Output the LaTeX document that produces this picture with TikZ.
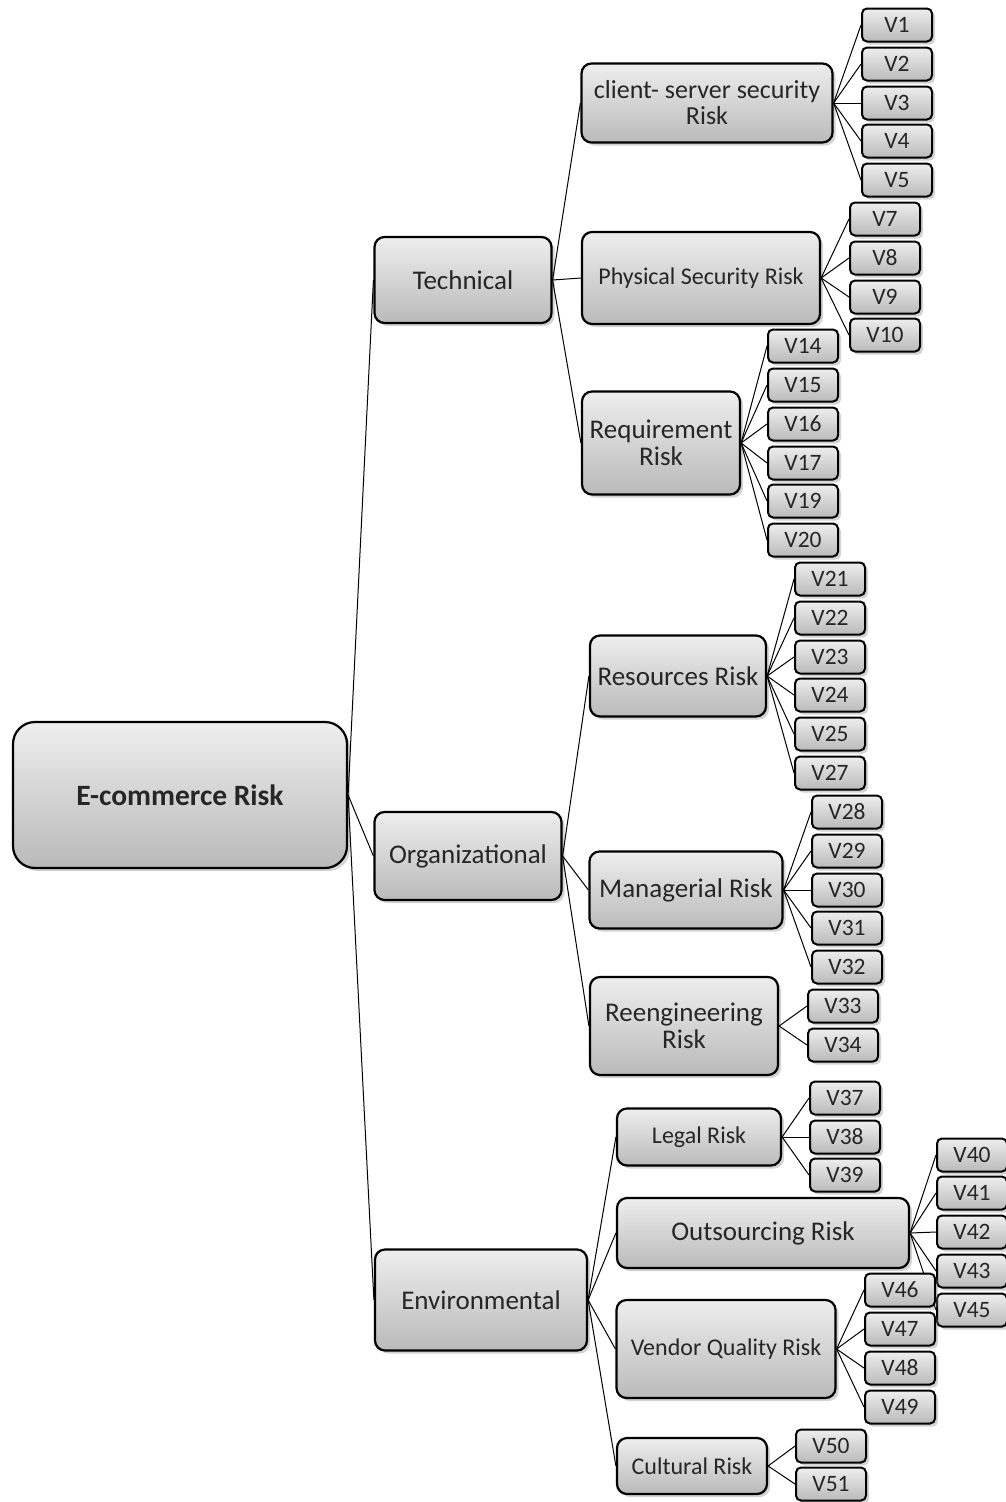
\documentclass[tikz,border=0pt]{standalone}
\usepackage{fontspec}
\setmainfont{Carlito}
\usetikzlibrary{shadows}
\definecolor{boxtop}{RGB}{238,238,238}
\definecolor{boxbot}{RGB}{186,186,186}
\definecolor{inkgray}{RGB}{38,38,38}
\tikzset{
  riskbox/.style={draw=black, line width=2.2pt, rounded corners=10pt,
    top color=boxtop, bottom color=boxbot, align=center, inner sep=0pt,
    text=inkgray,
    drop shadow={opacity=0.35, shadow xshift=3pt, shadow yshift=-3pt},
    font=\fontsize{27}{27}\selectfont},
  smallrisk/.style={riskbox, font=\fontsize{24}{27}\selectfont},
  vbox/.style={riskbox, rounded corners=5pt, line width=2pt,
    minimum width=70pt, minimum height=33pt, font=\fontsize{23.5}{25}\selectfont},
  link/.style={draw=black, line width=1pt}
}
\begin{document}
\begin{tikzpicture}[x=1pt,y=-1pt]
\useasboundingbox (0,0) rectangle (1005,1502);
% root
\node[riskbox, rounded corners=22pt, minimum width=334pt, minimum height=146pt,
  font=\bfseries\fontsize{29.5}{32}\selectfont] (root) at (180,795) {E-commerce Risk};
% first level
\node[riskbox, minimum width=177pt, minimum height=86pt] (tech) at (463,280) {Technical};
\node[riskbox, minimum width=187pt, minimum height=88pt] (org) at (468,856) {Organizational};
\node[riskbox, minimum width=212pt, minimum height=101pt] (env) at (481,1300) {Environmental};
\foreach \c in {tech,org,env} \draw[link] (root.east) -- (\c.west);
% second level
\node[riskbox, minimum width=251pt, minimum height=79pt,
  font=\fontsize{26}{26}\selectfont] (csr) at (707,103) {client-~server security\\Risk};
\node[smallrisk, minimum width=238pt, minimum height=92pt] (phys) at (701,278) {Physical Security Risk};
\node[riskbox, minimum width=158pt, minimum height=103pt] (req) at (661,443) {Requirement\\Risk};
\node[riskbox, minimum width=176pt, minimum height=81pt] (res) at (678,676) {Resources Risk};
\node[riskbox, minimum width=193pt, minimum height=77pt] (man) at (686,890) {Managerial Risk};
\node[riskbox, minimum width=188pt, minimum height=98pt] (reeng) at (684,1026) {Reengineering\\Risk};
\node[smallrisk, minimum width=164pt, minimum height=57pt] (legal) at (699,1137) {Legal Risk};
\node[riskbox, minimum width=292pt, minimum height=70pt] (outs) at (763,1233) {Outsourcing Risk};
\node[smallrisk, minimum width=219pt, minimum height=98pt] (vend) at (726,1349) {Vendor Quality Risk};
\node[smallrisk, minimum width=150pt, minimum height=56pt] (cult) at (692,1466) {Cultural Risk};
\foreach \c in {csr,phys,req} \draw[link] (tech.east) -- (\c.west);
\foreach \c in {res,man,reeng} \draw[link] (org.east) -- (\c.west);
\foreach \c in {legal,outs,vend,cult} \draw[link] (env.east) -- (\c.west);
% V leaves
\foreach \n/\y in {1/25,2/64,3/103,4/141,5/180} {
  \node[vbox] (v\n) at (897,\y) {V\n};
  \draw[link] (csr.east) -- (v\n.west);
}
\foreach \n/\y in {7/219,8/258,9/297,10/335} {
  \node[vbox] (v\n) at (885,\y) {V\n};
  \draw[link] (phys.east) -- (v\n.west);
}
\foreach \n/\y in {14/346,15/385,16/424,17/463,19/501,20/540} {
  \node[vbox] (v\n) at (803,\y) {V\n};
  \draw[link] (req.east) -- (v\n.west);
}
\foreach \n/\y in {21/579,22/618,23/657,24/695,25/734,27/773} {
  \node[vbox] (v\n) at (830,\y) {V\n};
  \draw[link] (res.east) -- (v\n.west);
}
\foreach \n/\y in {28/812,29/851,30/890,31/928,32/967} {
  \node[vbox] (v\n) at (847,\y) {V\n};
  \draw[link] (man.east) -- (v\n.west);
}
\foreach \n/\y in {33/1006,34/1045} {
  \node[vbox] (v\n) at (843,\y) {V\n};
  \draw[link] (reeng.east) -- (v\n.west);
}
\foreach \n/\y in {37/1098,38/1137,39/1175} {
  \node[vbox] (v\n) at (845,\y) {V\n};
  \draw[link] (legal.east) -- (v\n.west);
}
\foreach \n/\y in {40/1155,41/1193,42/1232,43/1271,45/1310} {
  \node[vbox] (v\n) at (972,\y) {V\n};
  \draw[link] (outs.east) -- (v\n.west);
}
\foreach \n/\y in {46/1290,47/1329,48/1368,49/1407} {
  \node[vbox] (v\n) at (900,\y) {V\n};
  \draw[link] (vend.east) -- (v\n.west);
}
\foreach \n/\y in {50/1446,51/1484} {
  \node[vbox] (v\n) at (831,\y) {V\n};
  \draw[link] (cult.east) -- (v\n.west);
}
\end{tikzpicture}
\end{document}
